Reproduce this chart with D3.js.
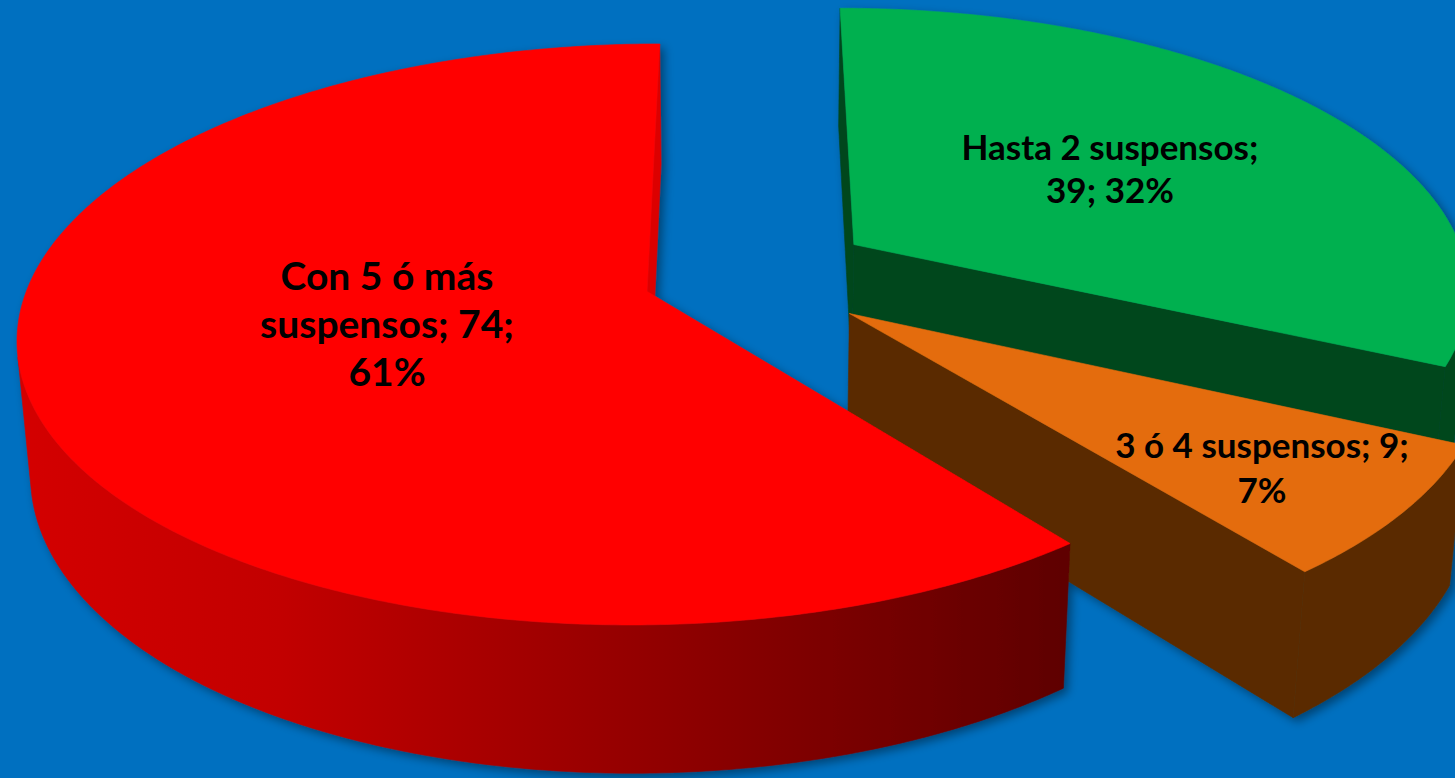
<!DOCTYPE html>
<html><head><meta charset="utf-8">
<script src="https://cdn.jsdelivr.net/npm/d3@7"></script>
<style>html,body{margin:0;padding:0;background:#0070C0;overflow:hidden}</style>
</head><body>
<svg id="chart" width="1455" height="778"></svg>
<script>
// ---------- data ----------
const categories = ["Hasta 2 suspensos", "3 ó 4 suspensos", "Con 5 ó más suspensos"];
const values = [39, 9, 74];
const percents = [32, 7, 61];

// ---------- style / layout ----------
const topColors = ["#00B050", "#E46C0A", "#FF0000"];
const sideColors = ["#00461F", "#5A2C00", "url(#redSide)"];
const radialColors = ["#00461F", "#5A2C00", "#DC0000"];
const explode = [0.213, 0.212, 0.167];
const labelAnchor = [[1110, 160], [1262, 458], [387, 290]];
const labelLineH = [43, 45, 48];
const labelMaxW = [320, 320, 290];
const labelSize = [35, 35, 39];

const W = 1455, H = 778;
const cam = {F: 3738, D: 6.07, pitch: 27.0 * Math.PI / 180, cx: 745, cy: 276};
const depth = 0.245;

const svg = d3.select("#chart");
svg.append("rect").attr("width", W).attr("height", H).attr("fill", "#0070C0");
const defs = svg.append("defs");
const flt = defs.append("filter").attr("id", "shadow").attr("x", "-10%").attr("y", "-10%").attr("width", "130%").attr("height", "130%");
flt.append("feDropShadow").attr("dx", 4).attr("dy", 4).attr("stdDeviation", 5)
   .attr("flood-color", "#000").attr("flood-opacity", 0.4);

const sP = Math.sin(cam.pitch), cP = Math.cos(cam.pitch);
const camPos = [0, cam.D * sP, -cam.D * cP];
function project(p) {
  const vx = p[0], vy = p[1] - camPos[1], vz = p[2] - camPos[2];
  const zc = -vy * sP + vz * cP;
  const yc = vy * cP + vz * sP;
  return [cam.cx + cam.F * vx / zc, cam.cy - cam.F * yc / zc];
}

const arcs = d3.pie().sort(null).value(d => d)(values);
const angStep = d3.scaleLinear().domain([0, 1]).range([0, Math.PI / 360]);

const slices = arcs.map((a, i) => {
  const mid = (a.startAngle + a.endAngle) / 2;
  const O = [explode[i] * Math.sin(mid), 0, explode[i] * Math.cos(mid)];
  const rim = (t, y) => [O[0] + Math.sin(t), y, O[2] + Math.cos(t)];
  const apex = y => [O[0], y, O[2]];
  const n = Math.ceil((a.endAngle - a.startAngle) / angStep(1));
  const angles = d3.range(n + 1).map(k => a.startAngle + (a.endAngle - a.startAngle) * k / n);
  const minZ = d3.min(angles, t => O[2] + Math.cos(t));
  return {i, a, O, rim, apex, angles, minZ};
});

const line = d3.line();
const g = svg.append("g").attr("filter", "url(#shadow)");

const order = slices.slice().sort((p, q) => q.minZ - p.minZ);
order.forEach(s => {
  const {O, rim, apex, angles, a, i} = s;
  const gs = g.append("g");
  const toC = [camPos[0] - O[0], camPos[2] - O[2]];
  const faces = [];
  const n0 = [-Math.cos(a.startAngle), Math.sin(a.startAngle)];
  if (toC[0] * n0[0] + toC[1] * n0[1] > 0) faces.push(a.startAngle);
  const n1 = [Math.cos(a.endAngle), -Math.sin(a.endAngle)];
  if (toC[0] * n1[0] + toC[1] * n1[1] > 0) faces.push(a.endAngle);
  faces.forEach(t => {
    const pts = [apex(0), rim(t, 0), rim(t, -depth), apex(-depth)].map(project);
    gs.append("path").attr("d", line(pts) + "Z").attr("fill", radialColors[i])
      .attr("stroke", radialColors[i]).attr("stroke-width", 0.6).attr("stroke-linejoin", "round");
  });
  const vis = t => -O[0] * Math.sin(t) - (cam.D * cP + O[2]) * Math.cos(t) - 1 > 0;
  let runs = [], cur = null;
  angles.forEach(t => {
    if (vis(t)) { if (!cur) { cur = []; runs.push(cur); } cur.push(t); }
    else cur = null;
  });
  runs.forEach(r => {
    const pts = r.map(t => project(rim(t, 0))).concat(r.slice().reverse().map(t => project(rim(t, -depth))));
    if (i === 2) {
      const ext = d3.extent(pts, p => p[0]);
      const grad = defs.append("linearGradient").attr("id", "redSide").attr("gradientUnits", "userSpaceOnUse")
        .attr("x1", ext[0]).attr("x2", ext[1]).attr("y1", 0).attr("y2", 0);
      [[0, "#D40000"], [0.25, "#C20000"], [0.5, "#A00000"], [0.75, "#7E0000"], [1, "#5E0000"]].forEach(([o, c]) =>
        grad.append("stop").attr("offset", o).attr("stop-color", c));
    }
    gs.append("path").attr("d", line(pts) + "Z").attr("fill", sideColors[i])
      .attr("stroke", sideColors[i]).attr("stroke-width", 0.6);
  });
  const topPts = [project(apex(0))].concat(angles.map(t => project(rim(t, 0))));
  gs.append("path").attr("d", line(topPts) + "Z").attr("fill", topColors[i])
    .attr("stroke", topColors[i]).attr("stroke-width", 0.6).attr("stroke-linejoin", "round");
});

// labels
const lg = svg.append("g").attr("font-family", "Lato, 'Open Sans', sans-serif")
  .attr("font-weight", 700).attr("fill", "#000").attr("text-anchor", "middle");
const measure = lg.append("text").attr("visibility", "hidden");
function wrap(text, maxW, size) {
  measure.attr("font-size", size);
  const words = text.split(" ");
  const lines = [];
  let curL = "";
  words.forEach(w => {
    const test = curL ? curL + " " + w : w;
    measure.text(test);
    if (curL && measure.node().getComputedTextLength() > maxW) { lines.push(curL); curL = w; }
    else curL = test;
  });
  if (curL) lines.push(curL);
  return lines;
}
categories.forEach((c, i) => {
  const txt = `${c}; ${values[i]}; ${percents[i]}%`;
  const lines = wrap(txt, labelMaxW[i], labelSize[i]);
  const t = lg.append("text").attr("font-size", labelSize[i]).attr("x", labelAnchor[i][0]).attr("y", labelAnchor[i][1]);
  lines.forEach((l, k) => t.append("tspan").attr("x", labelAnchor[i][0]).attr("y", labelAnchor[i][1] + k * labelLineH[i]).text(l));
});
measure.remove();
</script>
</body></html>
